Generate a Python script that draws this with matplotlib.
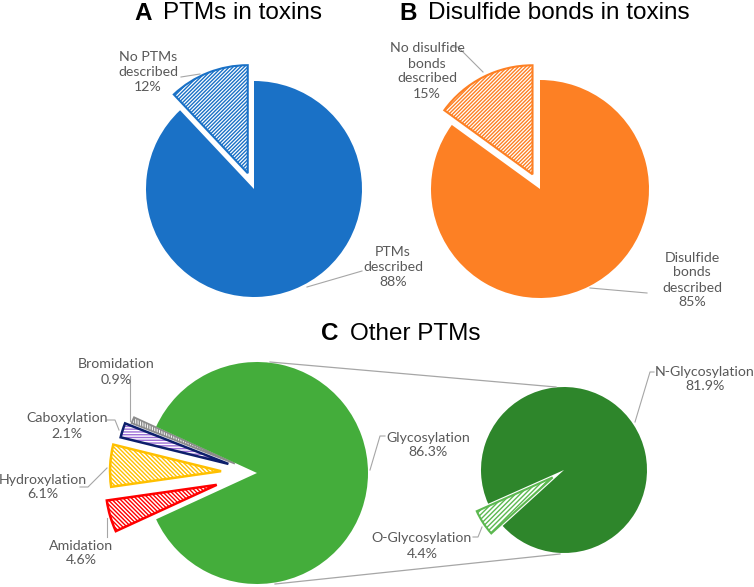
import matplotlib.pyplot as plt
import matplotlib.patches as mpatches

W, H = 754, 587

# panel A
a_labels = ['No PTMs\ndescribed\n12%', 'PTMs\ndescribed\n88%']
a_values = [12, 88]
# panel B
b_labels = ['No disulfide\nbonds\ndescribed\n15%', 'Disulfide\nbonds\ndescribed\n85%']
b_values = [15, 85]
# panel C, left pie
c_labels = ['Bromidation\n0.9%', 'Caboxylation\n2.1%', 'Hydroxylation\n6.1%',
            'Amidation\n4.6%', 'Glycosylation\n86.3%']
c_values = [0.9, 2.1, 6.1, 4.6, 86.3]
# panel C, right pie (split of glycosylation)
d_labels = ['O-Glycosylation\n4.4%', 'N-Glycosylation\n81.9%']
d_values = [4.4, 81.9]

plt.rcParams['hatch.linewidth'] = 1.0

fig = plt.figure(figsize=(W / 100, H / 100), dpi=100)
ax = fig.add_axes([0, 0, 1, 1])


def P(x, y):
    # pixel position (from top) -> data coords
    return (x, H - y)


def style(w, face, edge, hatch=None, lw=1.5):
    w.set_facecolor(face)
    w.set_edgecolor(edge)
    w.set_linewidth(lw)
    if hatch:
        w.set_hatch(hatch)


# A
blue = '#1a71c6'
wa, _ = ax.pie(a_values, center=P(254, 189), radius=108, startangle=90,
               explode=[17, 0], frame=True)
style(wa[0], 'white', blue, '/' * 9)
style(wa[1], blue, blue, lw=0)

# B
orange = '#fd8024'
wb, _ = ax.pie(b_values, center=P(540, 189), radius=109, startangle=90,
               explode=[16.5, 0], frame=True)
style(wb[0], 'white', orange, '/' * 9)
style(wb[1], orange, orange, lw=0)

# C left
green = '#44ad3b'
start_c = 180 - 3.6 * sum(c_values[:4]) / 2
wc, _ = ax.pie(c_values, center=P(257, 473), radius=111, startangle=start_c,
               explode=[24, 30, 36, 42, 0], frame=True)
style(wc[0], 'white', '#8c8c8c', '|' * 7, lw=1.3)
style(wc[1], 'white', '#9d6fd6', '-' * 6, lw=0)
style(wc[2], 'white', '#ffc000', '\\' * 8, lw=1.8)
style(wc[3], 'white', '#ff0000', '\\' * 8, lw=1.8)
style(wc[4], green, green, lw=0)
w = wc[1]
ax.add_patch(mpatches.Wedge(w.center, w.r, w.theta1, w.theta2, fill=False,
                            edgecolor='#0c1f6b', lw=1.8))

# C right
dgreen = '#2e862b'
wd, _ = ax.pie(d_values, center=P(564, 470), radius=83, startangle=204,
               explode=[13.6, 0], frame=True)
style(wd[0], 'white', '#5cb850', '/' * 7, lw=1.5)
style(wd[1], dgreen, dgreen, lw=0)

# connector lines between the two pies of C
gray = '#a6a6a6'
for seg in [[(270, 362), (556, 387)], [(275, 584), (560, 554)]]:
    xs, ys = zip(*[P(*p) for p in seg])
    ax.plot(xs, ys, color=gray, lw=0.9)

# labels with leader lines
labels = a_labels + b_labels + c_labels + d_labels
label_pos = [(148, 72), (393, 267),
             (427, 71), (692, 280),
             (116, 372), (67, 426), (43, 487), (81, 553), (428, 445),
             (422, 546), (705, 379)]
leaders = [[(181, 77), (200, 74)], [(307, 287), (362, 271)],
           [(452, 47), (458, 47), (483, 72)], [(590, 288), (647, 293)],
           [(130, 376), (130, 421)], [(107, 420), (115, 420), (119, 430)],
           [(80, 487), (88, 487), (107, 468)], [(107, 537), (107, 518)],
           [(385, 436), (380, 436), (370, 470)],
           [(473, 537), (478, 537), (482, 527)],
           [(654, 372), (650, 372), (635, 422)]]
for txt, pos, seg in zip(labels, label_pos, leaders):
    ax.text(*P(*pos), txt, ha='center', va='center', family='Lato',
            fontsize=10.2, color='#595959', linespacing=1.3)
    xs, ys = zip(*[P(*p) for p in seg])
    ax.plot(xs, ys, color=gray, lw=0.8)

# panel titles
titles = [('A', 'PTMs in toxins', 143, 13), ('B', 'Disulfide bonds in toxins', 408, 13),
          ('C', 'Other PTMs', 330, 334)]
for letter, title, x, y in titles:
    ax.text(*P(x, y), letter, ha='center', va='center', family='Liberation Sans',
            fontsize=17.5, fontweight='bold', color='black')
    ax.text(*P(x + 20, y), title, ha='left', va='center', family='Liberation Sans',
            fontsize=17.5, color='black')

ax.set_xlim(0, W)
ax.set_ylim(0, H)
ax.set_aspect('equal')
ax.axis('off')

fig.savefig('out.png', dpi=100)
